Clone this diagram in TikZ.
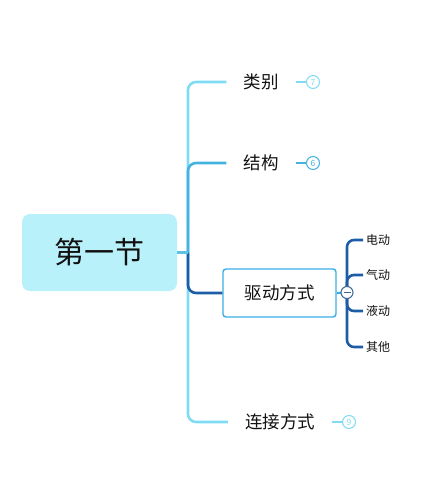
\documentclass[tikz,border=0pt]{standalone}
\usepackage{fontspec}
\setmainfont{Noto Sans CJK SC}
\definecolor{lcyan}{HTML}{7FDCF4}
\definecolor{mblue}{HTML}{45B3DF}
\definecolor{dblue}{HTML}{1D5DA6}
\definecolor{rootfill}{HTML}{B9F1FB}
\definecolor{boxline}{HTML}{3AAEE6}
\definecolor{txt}{HTML}{111111}
\begin{document}
\begin{tikzpicture}[x=1pt,y=-1pt,
  br/.style={line width=2.6pt,rounded corners=8pt},
  topic/.style={font=\fontsize{17.5}{20}\selectfont,text=txt,inner xsep=17pt,inner ysep=2pt},
  sub/.style={font=\fontsize{12}{14}\selectfont,text=txt,inner xsep=3pt,inner ysep=1pt,anchor=west},
  cnt/.style={circle,draw=#1,fill=white,line width=1pt,minimum size=13pt,inner sep=0pt,text=#1,font=\fontsize{8.5}{9}\selectfont}]
\useasboundingbox (0,0) rectangle (441,493);
\node[rounded corners=8pt,fill=rootfill,minimum width=155pt,minimum height=77pt,
  font=\fontsize{30}{34}\selectfont,text=txt] (root) at (99.5,252.5) {第一节};
\coordinate (j) at (188,252.5);
\node[topic] (n1) at (261,82) {类别};
\node[topic] (n2) at (261,163) {结构};
\node[draw=boxline,line width=1.4pt,rounded corners=3pt,minimum width=113pt,minimum height=48pt,
  font=\fontsize{17.5}{20}\selectfont,text=txt] (n3) at (279.5,293) {驱动方式};
\node[topic] (n4) at (280,422) {连接方式};
% branches
\draw[br,lcyan] (j) |- (n1.west);
\draw[br,lcyan] (j) |- (n4.west);
\draw[br,mblue] (j) |- (n2.west);
\draw[br,dblue] (j) |- (n3.west);
\draw[line width=2.6pt,mblue!60!lcyan] (root.east) -- (j);
% count markers
\node[cnt=lcyan] (c1) at (313,82) {7};
\node[cnt=mblue] (c2) at (313,163) {6};
\node[cnt=lcyan] (c4) at (349,422) {9};
\draw[line width=2.2pt,lcyan] (n1.east) -- (c1.west);
\draw[line width=2.2pt,mblue] (n2.east) -- (c2.west);
\draw[line width=2.2pt,lcyan] (n4.east) -- (c4.west);
% sub topics
\node[sub] (s1) at (363,240) {电动};
\node[sub] (s2) at (363,275) {气动};
\node[sub] (s3) at (363,311) {液动};
\node[sub] (s4) at (363,347) {其他};
\coordinate (mc) at (347,292.5);
\draw[br,dblue,rounded corners=7pt] (mc) |- (s1.west);
\draw[br,dblue,rounded corners=7pt] (mc) |- (s2.west);
\draw[br,dblue,rounded corners=7pt] (mc) |- (s3.west);
\draw[br,dblue,rounded corners=7pt] (mc) |- (s4.west);
\draw[line width=2.2pt,boxline] (n3.east) -- (mc);
\node[circle,draw=dblue!70!gray,fill=white,line width=1pt,minimum size=12pt,inner sep=0pt] (m) at (mc) {};
\draw[line width=1pt,dblue!70!gray] ([xshift=-3.5pt]m.center) -- ([xshift=3.5pt]m.center);
\end{tikzpicture}
\end{document}
